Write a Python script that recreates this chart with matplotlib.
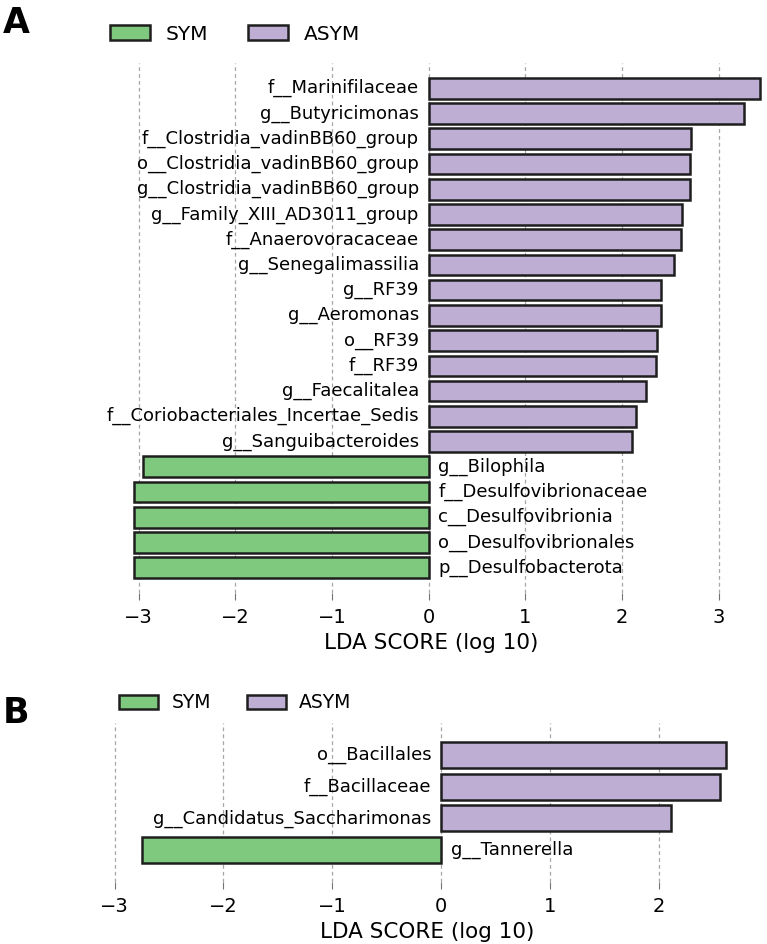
import matplotlib.pyplot as plt
from matplotlib.patches import Patch

# panel A (top to bottom)
taxa_a = ["f__Marinifilaceae", "g__Butyricimonas", "f__Clostridia_vadinBB60_group",
          "o__Clostridia_vadinBB60_group", "g__Clostridia_vadinBB60_group",
          "g__Family_XIII_AD3011_group", "f__Anaerovoracaceae", "g__Senegalimassilia",
          "g__RF39", "g__Aeromonas", "o__RF39", "f__RF39", "g__Faecalitalea",
          "f__Coriobacteriales_Incertae_Sedis", "g__Sanguibacteroides",
          "g__Bilophila", "f__Desulfovibrionaceae", "c__Desulfovibrionia",
          "o__Desulfovibrionales", "p__Desulfobacterota"]
lda_a = [3.43, 3.26, 2.71, 2.70, 2.70, 2.62, 2.61, 2.54, 2.40, 2.40, 2.36, 2.35,
         2.25, 2.15, 2.10, -2.95, -3.05, -3.05, -3.05, -3.05]

# panel B (top to bottom)
taxa_b = ["o__Bacillales", "f__Bacillaceae", "g__Candidatus_Saccharimonas", "g__Tannerella"]
lda_b = [2.62, 2.56, 2.11, -2.75]

GREEN = "#7fc97f"
PURPLE = "#beaed4"
W, H = 767, 944

plt.rcParams['font.family'] = ['DejaVu Sans']
fig = plt.figure(figsize=(W / 100, H / 100), dpi=100)


def draw(ax, taxa, vals, xlim, ticks, h):
    n = len(taxa)
    ys = list(range(n - 1, -1, -1))
    cols = [PURPLE if v > 0 else GREEN for v in vals]
    ax.set_axisbelow(True)
    for t in ticks:
        ax.axvline(t, color="0.65", lw=0.9, ls=(0, (3, 2.5)), zorder=0)
    ax.barh(ys, vals, height=h, color=cols, edgecolor="#1e1e1e", linewidth=1.8, zorder=2)
    for y, name, v in zip(ys, taxa, vals):
        if v > 0:
            ax.annotate(name, (0, y), xytext=(-7, 0), textcoords="offset points",
                        ha="right", va="center", fontsize=13)
        else:
            ax.annotate(name, (0, y), xytext=(7, 0), textcoords="offset points",
                        ha="left", va="center", fontsize=13)
    ax.set_xlim(*xlim)
    ax.set_ylim(-1, n)
    ax.set_xticks(ticks)
    ax.set_yticks([])
    ax.tick_params(axis="x", labelsize=14, length=5, color="0.45", pad=6)
    for s in ax.spines.values():
        s.set_visible(False)
    ax.set_xlabel("LDA SCORE (log 10)", fontsize=15.5, labelpad=4)


def box(l, t, r, b):
    return [l / W, 1 - b / H, (r - l) / W, (b - t) / H]


ax_a = fig.add_axes(box(95, 63, 767, 593))
draw(ax_a, taxa_a, lda_a, (-3.45, 3.50), [-3, -2, -1, 0, 1, 2, 3], 0.82)

ax_b = fig.add_axes(box(95, 723, 760, 882))
draw(ax_b, taxa_b, lda_b, (-3.18, 2.93), [-3, -2, -1, 0, 1, 2], 0.82)

handles = [Patch(facecolor=GREEN, edgecolor="#1e1e1e", lw=1.8, label="SYM"),
           Patch(facecolor=PURPLE, edgecolor="#1e1e1e", lw=1.8, label="ASYM")]
fig.legend(handles=handles, loc="center left", bbox_to_anchor=(110 / W, 1 - 34 / H),
           ncol=2, frameon=False, fontsize=14.5, borderpad=0, borderaxespad=0,
           handlelength=2.0, handleheight=0.75, handletextpad=0.75, columnspacing=2.0)
fig.legend(handles=handles, loc="center left", bbox_to_anchor=(119 / W, 1 - 703 / H),
           ncol=2, frameon=False, fontsize=13.5, borderpad=0, borderaxespad=0,
           handlelength=2.1, handleheight=0.8, handletextpad=0.7, columnspacing=1.9)

fig.text(3 / W, 1 - 6 / H, "A", fontsize=25, fontweight="bold",
         family="DejaVu Sans", ha="left", va="top")
fig.text(3 / W, 1 - 696 / H, "B", fontsize=25, fontweight="bold",
         family="DejaVu Sans", ha="left", va="top")

fig.savefig("out.png", dpi=100)
